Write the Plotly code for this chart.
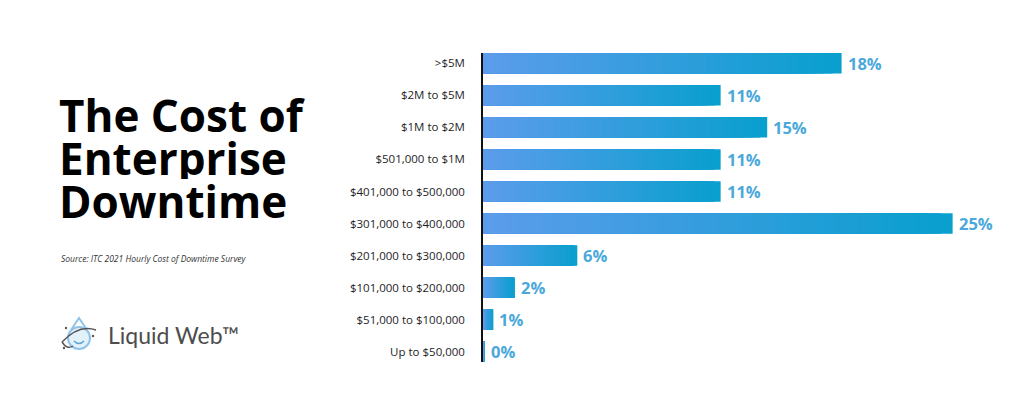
import plotly.graph_objects as go

# ---- data ----
categories = [">$5M", "$2M to $5M", "$1M to $2M", "$501,000 to $1M",
              "$401,000 to $500,000", "$301,000 to $400,000",
              "$201,000 to $300,000", "$101,000 to $200,000",
              "$51,000 to $100,000", "Up to $50,000"]
pct_labels = [18, 11, 15, 11, 11, 25, 6, 2, 1, 0]
# drawn bar lengths (same scale, 25% bar = 25)
bar_lengths = [19.09, 12.65, 15.13, 12.65, 12.65, 25.0, 5.02, 1.70, 0.55, 0.08]

OFF = 8  # page body margin offset
W, H = 1024 - OFF, 396 - OFF
ML, MR, MT, MB = 483 - OFF, 0, 53 - OFF, 34
X_MAX = 28.8

C_LEFT = (92, 156, 235)
C_RIGHT = (8, 159, 206)

def px2paper(px, py):
    px -= OFF
    py -= OFF
    return ((px - ML) / (W - ML - MR), (H - MB - py) / (H - MT - MB))

fig = go.Figure()

K = 40
for k in range(K):
    frac = 1 - k / K           # length fraction of this overlay bar
    t = 1 - (k + 0.5) / K      # position along the bar (0 left, 1 right)
    col = tuple(round(C_LEFT[i] + (C_RIGHT[i] - C_LEFT[i]) * t) for i in range(3))
    fig.add_trace(go.Bar(
        x=[v * frac for v in bar_lengths], y=categories, orientation="h",
        marker=dict(color="rgb(%d,%d,%d)" % col, line=dict(width=0)),
        width=0.64, hoverinfo="skip", showlegend=False,
    ))

for cat, v, p in zip(categories, bar_lengths, pct_labels):
    fig.add_annotation(x=v, y=cat, xref="x", yref="y", text=f"{p}%",
                       showarrow=False, xanchor="left", yanchor="middle", xshift=4,
                       font=dict(family="Open Sans", size=16.5, color="#4aa8da", weight="bold"))

# Title & source
title_lines = ["The Cost of", "Enterprise", "Downtime"]
title_y = [115, 158, 201]
for line, py in zip(title_lines, title_y):
    x, y = px2paper(57, py)
    fig.add_annotation(x=x, y=y, xref="paper", yref="paper", text=line, showarrow=False,
                       xanchor="left", yanchor="middle", height=42, valign="middle",
                       font=dict(family="Open Sans", size=44, color="#000000", weight="bold"))

x, y = px2paper(59, 258)
fig.add_annotation(x=x, y=y, xref="paper", yref="paper",
                   text="<i>Source: ITC 2021 Hourly Cost of Downtime Survey</i>",
                   showarrow=False, xanchor="left", yanchor="middle",
                   font=dict(family="Open Sans", size=8.5, color="#333333"))

# Logo text
x, y = px2paper(106, 335)
fig.add_annotation(x=x, y=y, xref="paper", yref="paper", text="Liquid Web™",
                   showarrow=False, xanchor="left", yanchor="middle",
                   font=dict(family="Lato", size=23, color="#4d4d4d"))

# Logo icon (simple drawing)
def pp(px, py):
    a, b = px2paper(px, py)
    return f"{a:.5f},{b:.5f}"

shapes = []
cx, cy, r = 79, 338, 11
x0, y0 = px2paper(cx - r, cy + r)
x1, y1 = px2paper(cx + r, cy - r)
shapes.append(dict(type="circle", xref="paper", yref="paper", x0=x0, y0=y0, x1=x1, y1=y1,
                   line=dict(color="#8fc3ea", width=2), fillcolor="rgba(200,228,248,0.5)"))
# drop tip
shapes.append(dict(type="path", xref="paper", yref="paper",
                   path=f"M{pp(cx-8, cy-8)} L{pp(cx, cy-20)} L{pp(cx+8, cy-8)}",
                   line=dict(color="#8fc3ea", width=2)))
# orbit
shapes.append(dict(type="path", xref="paper", yref="paper",
                   path=f"M{pp(cx-17, cy+4)} Q{pp(cx, cy-14)} {pp(cx+17, cy-8)}",
                   line=dict(color="#555555", width=1.5)))
shapes.append(dict(type="path", xref="paper", yref="paper",
                   path=f"M{pp(cx-17, cy+4)} Q{pp(cx-12, cy+12)} {pp(cx-6, cy+8)}",
                   line=dict(color="#555555", width=1.5)))
# smile
shapes.append(dict(type="path", xref="paper", yref="paper",
                   path=f"M{pp(cx-5, cy+3)} Q{pp(cx, cy+8)} {pp(cx+5, cy+3)}",
                   line=dict(color="#5a9fd8", width=1.5)))
# dots
for dx, dy in [(-13, -10), (14, -2), (-15, 10)]:
    a0, b0 = px2paper(cx + dx - 1.2, cy + dy + 1.2)
    a1, b1 = px2paper(cx + dx + 1.2, cy + dy - 1.2)
    shapes.append(dict(type="circle", xref="paper", yref="paper", x0=a0, y0=b0, x1=a1, y1=b1,
                       fillcolor="#555555", line=dict(width=0)))

fig.update_layout(
    width=W, height=H, autosize=False,
    margin=dict(l=ML, r=MR, t=MT, b=MB, pad=0),
    barmode="overlay", bargap=0.36,
    plot_bgcolor="white", paper_bgcolor="white",
    shapes=shapes,
    xaxis=dict(range=[0, X_MAX], visible=False, fixedrange=True),
    yaxis=dict(type="category", range=[9.32, -0.32], showline=True, linecolor="#111111",
               linewidth=1.5, ticks="", showgrid=False, zeroline=False,
               ticklabelstandoff=14,
               tickfont=dict(family="Open Sans", size=11.5, color="#1e1e1e"),
               automargin=False, fixedrange=True),
    font=dict(family="Open Sans"),
)

fig.write_html("out.html", config={"displayModeBar": False})
